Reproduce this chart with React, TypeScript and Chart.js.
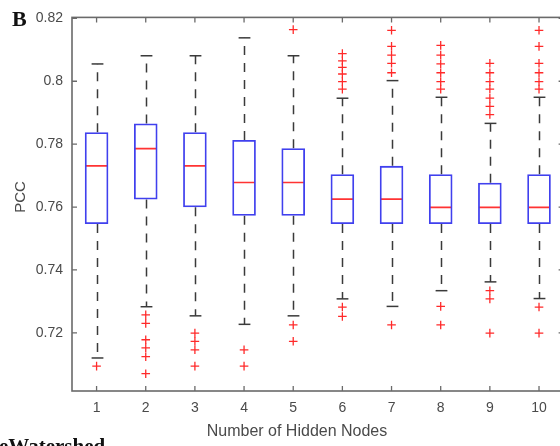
import React, { useEffect, useRef } from 'react';
import { Chart, registerables } from 'chart.js';

Chart.register(...registerables);

// ---------- data ----------
const categories = ['1', '2', '3', '4', '5', '6', '7', '8', '9', '10'];
const q1 = [0.7546, 0.7624, 0.7599, 0.7572, 0.7572, 0.7546, 0.7546, 0.7546, 0.7546, 0.7546];
const q3 = [0.7838, 0.7866, 0.7838, 0.7813, 0.7787, 0.7704, 0.7731, 0.7704, 0.7677, 0.7704];
const medians = [0.7731, 0.7786, 0.7731, 0.7678, 0.7678, 0.7625, 0.7625, 0.7599, 0.7599, 0.7599];
const whiskerLow = [0.7120, 0.7283, 0.7254, 0.7227, 0.7254, 0.7308, 0.7284, 0.7334, 0.7362, 0.7309];
const whiskerHigh = [0.8055, 0.8081, 0.8081, 0.8138, 0.8081, 0.7946, 0.8002, 0.7949, 0.7866, 0.7949];
const outliers = [
  [0.7094],
  [0.7257, 0.7230, 0.7178, 0.7152, 0.7124, 0.7070],
  [0.7199, 0.7173, 0.7146, 0.7094],
  [0.7146, 0.7094],
  [0.8164, 0.7225, 0.7173],
  [0.8088, 0.8065, 0.8044, 0.8023, 0.7999, 0.7975, 0.7282, 0.7252],
  [0.8162, 0.8111, 0.8083, 0.8057, 0.8027, 0.7225],
  [0.8114, 0.8083, 0.8055, 0.8027, 0.7999, 0.7975, 0.7284, 0.7225],
  [0.8057, 0.8027, 0.7999, 0.7975, 0.7946, 0.7920, 0.7894, 0.7334, 0.7308, 0.7199],
  [0.8162, 0.8111, 0.8057, 0.8027, 0.7999, 0.7975, 0.7282, 0.7199],
];
const yTicks = [0.72, 0.74, 0.76, 0.78, 0.8, 0.82];
const yTickLabels = ['0.72', '0.74', '0.76', '0.78', '0.8', '0.82'];
const Y_MIN = 0.7015;
const Y_MAX = 0.8203;
const xTitle = 'Number of Hidden Nodes';
const yTitle = 'PCC';
const panelLabel = 'B';
const captionFragment = 'eWatershed';

// ---------- styles ----------
const BOX_COLOR = '#4040ee';
const MEDIAN_COLOR = '#ff3333';
const OUTLIER_COLOR = '#ff2a2a';
const WHISKER_COLOR = '#3a3a3a';
const AXIS_COLOR = '#6a6a6a';
const TEXT_COLOR = '#4a4a4a';
const BOX_FRACTION = 0.48;
const SANS = '"Liberation Sans", Arial, sans-serif';
const SERIF = '"Liberation Serif", "Times New Roman", serif';

const boxExtras = {
  id: 'boxExtras',
  beforeDatasetsDraw(chart: any) {
    const { ctx } = chart;
    const x = chart.scales.x;
    const y = chart.scales.y;
    const catW = x.getPixelForValue(1) - x.getPixelForValue(0);
    const capHalf = (catW * BOX_FRACTION) / 4;
    ctx.save();
    ctx.strokeStyle = WHISKER_COLOR;
    ctx.lineWidth = 1.5;
    ctx.setLineDash([9, 8]);
    categories.forEach((_, i) => {
      const px = Math.round(x.getPixelForValue(i)) + 0.5;
      ctx.beginPath();
      ctx.moveTo(px, y.getPixelForValue(q3[i]));
      ctx.lineTo(px, y.getPixelForValue(whiskerHigh[i]));
      ctx.stroke();
      ctx.beginPath();
      ctx.moveTo(px, y.getPixelForValue(q1[i]));
      ctx.lineTo(px, y.getPixelForValue(whiskerLow[i]));
      ctx.stroke();
    });
    ctx.setLineDash([]);
    categories.forEach((_, i) => {
      const px = Math.round(x.getPixelForValue(i)) + 0.5;
      [whiskerHigh[i], whiskerLow[i]].forEach((v) => {
        const py = y.getPixelForValue(v);
        ctx.beginPath();
        ctx.moveTo(px - capHalf, py);
        ctx.lineTo(px + capHalf, py);
        ctx.stroke();
      });
    });
    ctx.restore();
  },
  afterDraw(chart: any) {
    const { ctx, chartArea } = chart;
    const { left, right, top, bottom } = chartArea;
    const x = chart.scales.x;
    const y = chart.scales.y;
    ctx.save();
    // frame
    ctx.strokeStyle = AXIS_COLOR;
    ctx.lineWidth = 1.6;
    ctx.strokeRect(left, top, right - left, bottom - top);
    // inward ticks
    ctx.lineWidth = 1.3;
    const tl = 5;
    yTicks.forEach((v) => {
      const py = y.getPixelForValue(v);
      ctx.beginPath();
      ctx.moveTo(left, py);
      ctx.lineTo(left + tl, py);
      ctx.moveTo(right, py);
      ctx.lineTo(right - tl, py);
      ctx.stroke();
    });
    categories.forEach((_, i) => {
      const px = x.getPixelForValue(i);
      ctx.beginPath();
      ctx.moveTo(px, bottom);
      ctx.lineTo(px, bottom - tl);
      ctx.moveTo(px, top);
      ctx.lineTo(px, top + tl);
      ctx.stroke();
    });
    // axis titles
    ctx.fillStyle = TEXT_COLOR;
    ctx.font = `16px ${SANS}`;
    ctx.textAlign = 'center';
    ctx.textBaseline = 'middle';
    ctx.fillText(xTitle, 297, 432);
    ctx.save();
    ctx.translate(21, 197);
    ctx.rotate(-Math.PI / 2);
    ctx.font = `15px ${SANS}`;
    ctx.fillText(yTitle, 0, 0);
    ctx.restore();
    // panel label and caption fragment
    ctx.fillStyle = '#111111';
    ctx.textAlign = 'left';
    ctx.textBaseline = 'alphabetic';
    ctx.font = `bold 22px ${SERIF}`;
    ctx.fillText(panelLabel, 12, 26);
    ctx.font = `bold 21px ${SERIF}`;
    ctx.fillText(captionFragment, -1, 453);
    ctx.restore();
  },
};

export default function App() {
  const canvasRef = useRef<HTMLCanvasElement | null>(null);

  useEffect(() => {
    const canvas = canvasRef.current;
    if (!canvas) return;
    const halfBoxFn = (c: any) => {
      const xs = c.chart.scales.x;
      if (!xs) return 11;
      const w = xs.getPixelForValue(1) - xs.getPixelForValue(0);
      return (w * BOX_FRACTION) / 2 - 0.9;
    };
    const chart = new Chart(canvas, {
      type: 'bar',
      data: {
        labels: categories,
        datasets: [
          {
            type: 'bar',
            data: categories.map((_, i) => [q1[i], q3[i]]) as any,
            backgroundColor: 'rgba(0,0,0,0)',
            borderColor: BOX_COLOR,
            borderWidth: 1.8,
            borderSkipped: false,
            barPercentage: BOX_FRACTION,
            categoryPercentage: 1,
            grouped: false,
          } as any,
          {
            type: 'scatter',
            data: categories.map((c, i) => ({ x: c, y: medians[i] })) as any,
            pointStyle: 'line',
            radius: halfBoxFn,
            borderColor: MEDIAN_COLOR,
            borderWidth: 1.7,
          } as any,
          {
            type: 'scatter',
            data: categories.flatMap((c, i) => outliers[i].map((v) => ({ x: c, y: v }))) as any,
            pointStyle: 'cross',
            radius: 4.3,
            borderColor: OUTLIER_COLOR,
            borderWidth: 1.3,
          } as any,
        ],
      },
      options: {
        responsive: false,
        animation: false,
        devicePixelRatio: 1,
        events: [],
        layout: { padding: { top: 14, right: 36.4, bottom: 0, left: 0 } },
        plugins: { legend: { display: false }, tooltip: { enabled: false } },
        scales: {
          x: {
            type: 'category',
            offset: true,
            grid: { display: false, drawTicks: false },
            border: { display: false },
            ticks: {
              color: TEXT_COLOR,
              font: { family: SANS, size: 14 },
              padding: 8.5,
              maxRotation: 0,
              autoSkip: false,
            },
            afterFit: (s: any) => {
              s.height = 55;
            },
          },
          y: {
            type: 'linear',
            min: Y_MIN,
            max: Y_MAX,
            grid: { display: false, drawTicks: false },
            border: { display: false },
            afterBuildTicks: (s: any) => {
              s.ticks = yTicks.map((v) => ({ value: v }));
            },
            ticks: {
              color: TEXT_COLOR,
              font: { family: SANS, size: 14 },
              padding: 9,
              callback: (v: any) => {
                const idx = yTicks.findIndex((t) => Math.abs(t - Number(v)) < 1e-6);
                return idx >= 0 ? yTickLabels[idx] : '';
              },
            },
            afterFit: (s: any) => {
              s.width = 72;
            },
          },
        },
      } as any,
      plugins: [boxExtras],
    });
    return () => chart.destroy();
  }, []);

  return (
    <div
      style={{
        position: 'fixed',
        left: 0,
        top: 0,
        width: 560,
        height: 446,
        overflow: 'hidden',
        background: '#ffffff',
      }}
    >
      <canvas ref={canvasRef} width={600} height={446} style={{ display: 'block', width: 600, height: 446 }} />
    </div>
  );
}
